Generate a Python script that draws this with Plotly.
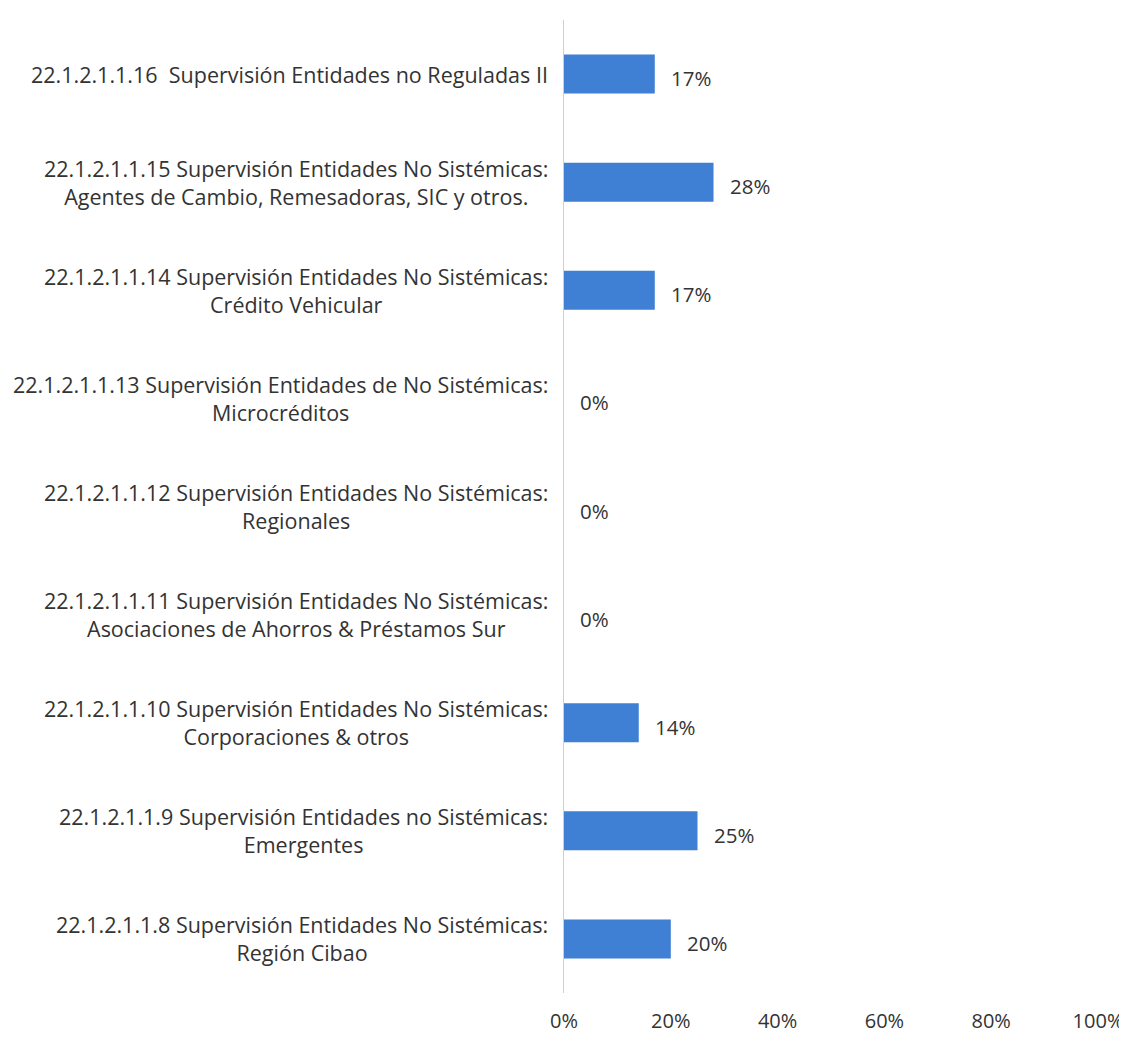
import plotly.graph_objects as go

# categories listed top to bottom as in the reference
labels = [
    "22.1.2.1.1.16  Supervisión Entidades no Reguladas II",
    "22.1.2.1.1.15 Supervisión Entidades No Sistémicas:<br>Agentes de Cambio, Remesadoras, SIC y otros.",
    "22.1.2.1.1.14 Supervisión Entidades No Sistémicas:<br>Crédito Vehicular",
    "22.1.2.1.1.13 Supervisión Entidades de No Sistémicas:<br>Microcréditos",
    "22.1.2.1.1.12 Supervisión Entidades No Sistémicas:<br>Regionales",
    "22.1.2.1.1.11 Supervisión Entidades No Sistémicas:<br>Asociaciones de Ahorros &amp; Préstamos Sur",
    "22.1.2.1.1.10 Supervisión Entidades No Sistémicas:<br>Corporaciones &amp; otros",
    "22.1.2.1.1.9 Supervisión Entidades no Sistémicas:<br>Emergentes",
    "22.1.2.1.1.8 Supervisión Entidades No Sistémicas:<br>Región Cibao",
]
values = [0.17, 0.28, 0.17, 0.0, 0.0, 0.0, 0.14, 0.25, 0.20]
tick_vals = [0, 0.2, 0.4, 0.6, 0.8, 1.0]

FONT = "Open Sans"
TEXT = "#333333"
BAR = "#3f7fd4"

cats = list(range(len(labels)))

fig = go.Figure(
    go.Bar(
        x=values,
        y=cats,
        orientation="h",
        marker={"color": BAR, "line": {"width": 0}},
        width=0.36,
        hoverinfo="skip",
    )
)

# category labels, lines centred within each block
for c, lab in zip(cats, labels):
    fig.add_annotation(
        x=0, y=c, xref="x", yref="y",
        text=lab, showarrow=False,
        xanchor="right", yanchor="middle", align="center",
        xshift=-14,
        font={"family": FONT, "size": 21.5, "color": TEXT},
    )

# value labels
for c, v in zip(cats, values):
    fig.add_annotation(
        x=v, y=c, xref="x", yref="y",
        text=f"{round(v * 100)}%", showarrow=False,
        xanchor="left", yanchor="middle",
        xshift=14, yshift=-4,
        font={"family": FONT, "size": 20.5, "color": TEXT},
    )

fig.update_xaxes(
    range=[0, 1.0],
    tickvals=tick_vals,
    tickformat=".0%",
    showgrid=False,
    zeroline=False,
    showline=False,
    ticks="",
    ticklabelstandoff=14,
    tickfont={"family": FONT, "size": 20, "color": TEXT},
)
fig.update_yaxes(
    range=[len(labels) - 0.5, -0.5],
    showticklabels=False,
    showgrid=False,
    zeroline=False,
    showline=True,
    linecolor="#d0d0d0",
    linewidth=1,
    ticks="",
)

fig.update_layout(
    width=1127,
    height=1038,
    margin={"l": 556, "r": 36, "t": 12, "b": 43},
    paper_bgcolor="white",
    plot_bgcolor="white",
    showlegend=False,
    bargap=0.6,
)

fig.write_html("out.html")
